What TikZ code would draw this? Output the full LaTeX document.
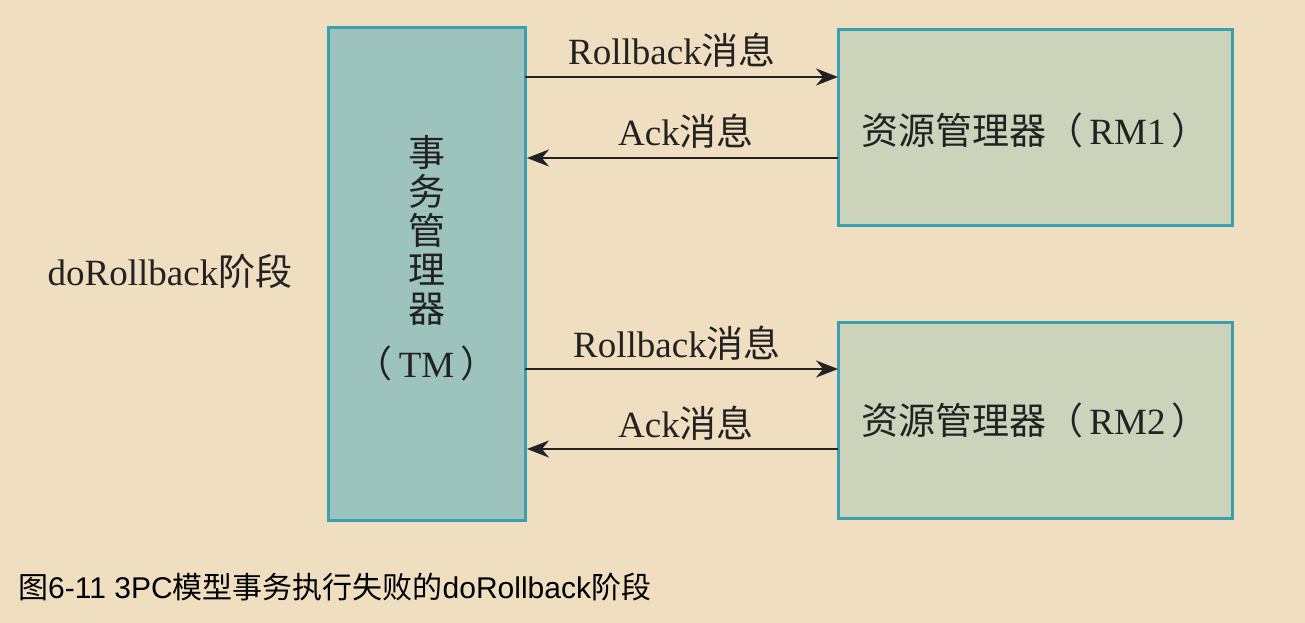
\documentclass[tikz,border=0pt]{standalone}
\usepackage{fontspec}
\setmainfont{Liberation Serif}
\newfontfamily\cjk{Noto Sans CJK SC}
\newfontfamily\capfont{Liberation Sans}
\usetikzlibrary{arrows.meta}
\definecolor{bg}{HTML}{F0DEC0}
\definecolor{tmfill}{HTML}{9DC4BC}
\definecolor{rmfill}{HTML}{CBD3BB}
\definecolor{edge}{HTML}{3A9FB0}
\definecolor{ink}{HTML}{222222}
\begin{document}
\begin{tikzpicture}[x=1pt,y=-1pt,
  box/.style={draw=edge,line width=3pt},
  lbl/.style={font=\fontsize{37}{40}\selectfont,text=ink,inner sep=0pt},
  msg/.style={draw=ink,line width=2.4pt,-{Stealth[length=22pt,width=17pt]}}]
\fill[bg] (0,0) rectangle (1305,623);
\useasboundingbox (0,0) rectangle (1305,623);
\path[box,fill=tmfill] (328,28) rectangle (525,520);
\path[box,fill=rmfill] (838,30) rectangle (1232,225);
\path[box,fill=rmfill] (838,322) rectangle (1232,518);
\coordinate (a1s) at (525,77);   \coordinate (a1e) at (838,77);
\coordinate (b1s) at (838,158);  \coordinate (b1e) at (527,158);
\coordinate (a2s) at (525,369);  \coordinate (a2e) at (838,369);
\coordinate (b2s) at (838,449);  \coordinate (b2e) at (527,449);
\draw[msg] (a1s) -- (a1e);
\draw[msg] (b1s) -- (b1e);
\draw[msg] (a2s) -- (a2e);
\draw[msg] (b2s) -- (b2e);
\node[lbl] (l1) at (672,50) {Rollback{\cjk 消息}};
\node[lbl] (l2) at (686,131) {Ack{\cjk 消息}};
\node[lbl] (l3) at (677,343) {Rollback{\cjk 消息}};
\node[lbl] (l4) at (686,423) {Ack{\cjk 消息}};
\node[lbl,align=center] (tmt) at (426.5,230) {{\cjk 事}\\[-1pt]{\cjk 务}\\[-1pt]{\cjk 管}\\[-1pt]{\cjk 理}\\[-1pt]{\cjk 器}};
\node[lbl] (tmn) at (426.5,363) {{\cjk （}\,TM\,{\cjk ）}};
\node[lbl] (r1) at (1035,130) {{\cjk 资源管理器（}\,RM1\,{\cjk ）}};
\node[lbl] (r2) at (1035,420) {{\cjk 资源管理器（}\,RM2\,{\cjk ）}};
\node[lbl] (ph) at (170,271) {doRollback{\cjk 阶段}};
\node[inner sep=0pt,anchor=west,text=black,font=\fontsize{30}{33}\selectfont] (cap) at (18,587) {{\cjk 图}{\capfont 6-11 3PC}{\cjk 模型事务执行失败的}{\capfont doRollback}{\cjk 阶段}};
\end{tikzpicture}
\end{document}
